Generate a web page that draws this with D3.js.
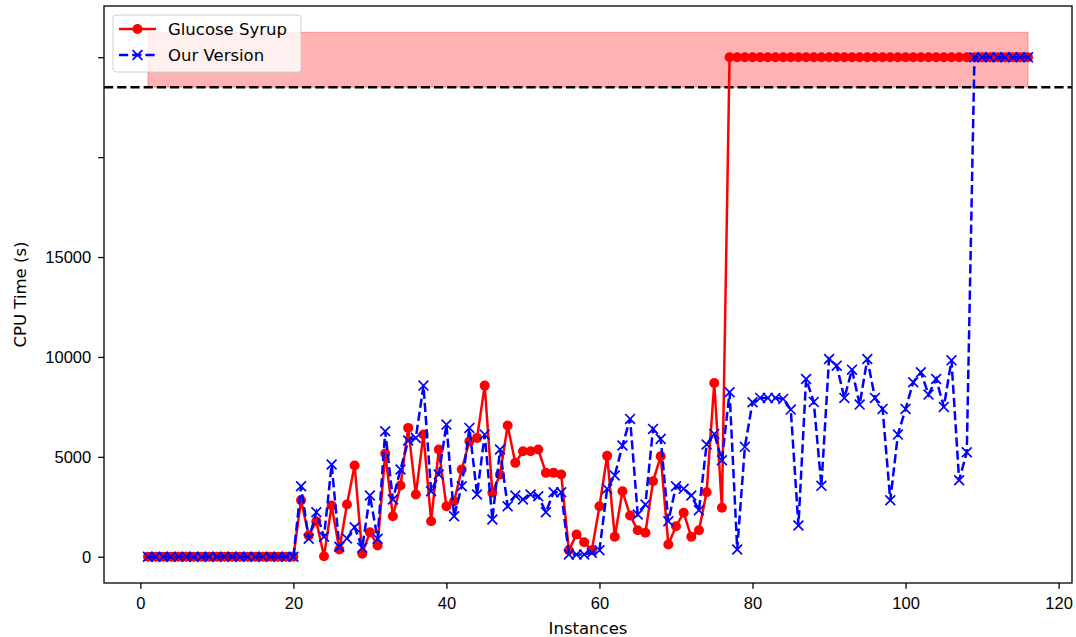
<!DOCTYPE html>
<html>
<head>
<meta charset="utf-8">
<script src="https://cdn.jsdelivr.net/npm/d3@7"></script>
<style>
  body { margin: 0; background: #fff; }
  svg { font-family: "DejaVu Sans", sans-serif; }
</style>
</head>
<body>
<div id="chart"></div>
<script>
// values
const instances = d3.range(1, 117);

const glucoseSyrup = [
  0, 0, 0, 0, 0, 0, 0, 0, 0, 0, 0, 0, 0, 0, 0, 0, 0, 0, 0, 0,
  2830, 1065, 1780, 30, 2565, 365, 2615, 4565, 150, 1230,
  565, 5165, 2030, 3565, 6450, 3115, 6115, 1780, 5365, 2530,
  2780, 4365, 5780, 5950, 8565, 3200, 4115, 6565, 4700, 5280,
  5280, 5365, 4200, 4200, 4115, 330, 1115, 730, 330, 2530,
  5050, 1000, 3280, 2065, 1330, 1200, 3780, 5030, 615, 1530,
  2200, 1000, 1330, 3230, 8700, 2450,
  25000, 25000, 25000, 25000, 25000, 25000, 25000, 25000, 25000, 25000,
  25000, 25000, 25000, 25000, 25000, 25000, 25000, 25000, 25000, 25000,
  25000, 25000, 25000, 25000, 25000, 25000, 25000, 25000, 25000, 25000,
  25000, 25000, 25000, 25000, 25000, 25000, 25000, 25000, 25000, 25000
];

const ourVersion = [
  0, 0, 0, 0, 0, 0, 0, 0, 0, 0, 0, 0, 0, 0, 0, 0, 0, 0, 0, 0,
  3530, 900, 2230, 1000, 4615, 500, 915, 1480, 450, 3065,
  900, 6280, 2865, 4365, 5815, 5950, 8565, 3280, 4115, 6615,
  2030, 3530, 6450, 3115, 6115, 1865, 5365, 2530, 3065, 2865,
  3115, 3030, 2230, 3230, 3230, 115, 115, 115, 200, 330,
  3400, 4065, 5565, 6900, 2115, 2615, 6400, 5900, 1780, 3530,
  3400, 3065, 2330, 5615, 6150, 4830, 8230, 365, 5500, 7730,
  7950, 7950, 7950, 7900, 7365, 1565, 8900, 7750, 3550, 9900,
  9565, 7950, 9365, 7615, 9900, 7950, 7400, 2830, 6115, 7400,
  8730, 9230, 8115, 8900, 7500, 9830, 3830, 5230,
  25000, 25000, 25000, 25000, 25000, 25000, 25000, 25000
];

const timeoutLine = 23500;
const timeoutBand = [23500, 26250];
const yTicks = [0, 5000, 10000, 15000, 20000, 25000];
const yTickLabels = ["0", "5000", "10000", "15000", "", ""];
const xTicks = [0, 20, 40, 60, 80, 100, 120];

const width = 1076, height = 637;
const margin = {top: 6, right: 4, bottom: 54, left: 104};
const w = width - margin.left - margin.right;
const h = height - margin.top - margin.bottom;
const fontSize = '16.5px';
const lw = 2.5;
const dash = '9.2,4';

const svg = d3.select('#chart').append('svg')
  .attr('width', width)
  .attr('height', height);

const g = svg.append('g')
  .attr('transform', `translate(${margin.left},${margin.top})`);

// matplotlib style 5% padding
const xMin = 1, xMax = 116;
const xPad = (xMax - xMin) * 0.05;
const x = d3.scaleLinear().domain([xMin - xPad, xMax + xPad]).range([0, w]);

const yMin = 0, yMax = timeoutBand[1];
const yPad = (yMax - yMin) * 0.05;
const y = d3.scaleLinear().domain([yMin - yPad, yMax + yPad]).range([h, 0]);

// red band over the timeout zone
const bandArea = d3.area()
  .x(d => x(d))
  .y0(y(timeoutBand[0]))
  .y1(y(timeoutBand[1]));
g.append('path')
  .datum(instances)
  .attr('d', bandArea)
  .attr('fill', 'red')
  .attr('fill-opacity', 0.3)
  .attr('stroke', 'red')
  .attr('stroke-opacity', 0.3)
  .attr('stroke-width', 1.2);

// threshold dashed line
g.append('line')
  .attr('x1', 0).attr('x2', w)
  .attr('y1', y(timeoutLine)).attr('y2', y(timeoutLine))
  .attr('stroke', 'black')
  .attr('stroke-width', lw)
  .attr('stroke-dasharray', dash);

const line = d3.line()
  .x((d, i) => x(instances[i]))
  .y(d => y(d));

// Glucose Syrup - red solid with circles
g.append('path')
  .datum(glucoseSyrup)
  .attr('d', line)
  .attr('fill', 'none')
  .attr('stroke', 'red')
  .attr('stroke-width', lw);

g.selectAll('.dot')
  .data(glucoseSyrup)
  .enter().append('circle')
  .attr('class', 'dot')
  .attr('cx', (d, i) => x(instances[i]))
  .attr('cy', d => y(d))
  .attr('r', 5)
  .attr('fill', 'red');

// Our Version - blue dashed with x markers
g.append('path')
  .datum(ourVersion)
  .attr('d', line)
  .attr('fill', 'none')
  .attr('stroke', 'blue')
  .attr('stroke-width', lw)
  .attr('stroke-dasharray', dash);

const cross = 4.9;
g.selectAll('.cross')
  .data(ourVersion)
  .enter().append('path')
  .attr('class', 'cross')
  .attr('transform', (d, i) => `translate(${x(instances[i])},${y(d)})`)
  .attr('d', `M${-cross},${-cross}L${cross},${cross}M${-cross},${cross}L${cross},${-cross}`)
  .attr('stroke', 'blue')
  .attr('stroke-width', 1.7)
  .attr('fill', 'none');

// axes
const xAxis = g.append('g')
  .attr('transform', `translate(0,${h})`)
  .call(d3.axisBottom(x).tickValues(xTicks).tickSize(5.8).tickPadding(8).tickSizeOuter(0));

const yAxis = g.append('g')
  .call(d3.axisLeft(y).tickValues(yTicks).tickFormat((d, i) => yTickLabels[i]).tickSize(5.8).tickPadding(7).tickSizeOuter(0));

[xAxis, yAxis].forEach(a => {
  a.select('.domain').remove();
  a.selectAll('text').style('font-size', fontSize).attr('fill', '#000');
  a.selectAll('line').attr('stroke', '#000').attr('stroke-width', 1.3);
});

// frame
g.append('rect')
  .attr('width', w).attr('height', h)
  .attr('fill', 'none')
  .attr('stroke', '#000')
  .attr('stroke-width', 1.3);

// axis labels
svg.append('text')
  .attr('x', margin.left + w / 2)
  .attr('y', 634)
  .attr('text-anchor', 'middle')
  .style('font-size', fontSize)
  .text('Instances');

svg.append('text')
  .attr('transform', `translate(26,${margin.top + h / 2}) rotate(-90)`)
  .attr('text-anchor', 'middle')
  .style('font-size', fontSize)
  .text('CPU Time (s)');

// legend
const legend = svg.append('g').attr('transform', 'translate(113,15)');
legend.append('rect')
  .attr('width', 188).attr('height', 57)
  .attr('rx', 3)
  .attr('fill', 'white').attr('fill-opacity', 0.8)
  .attr('stroke', '#d0d0d0');

const entries = [
  {label: 'Glucose Syrup', color: 'red', dash: null, marker: 'circle'},
  {label: 'Our Version', color: 'blue', dash: dash, marker: 'x'}
];
entries.forEach((e, i) => {
  const cy = 14 + i * 26;
  legend.append('line')
    .attr('x1', 6).attr('x2', 43)
    .attr('y1', cy).attr('y2', cy)
    .attr('stroke', e.color).attr('stroke-width', lw)
    .attr('stroke-dasharray', e.dash);
  if (e.marker === 'circle') {
    legend.append('circle').attr('cx', 24.5).attr('cy', cy).attr('r', 5).attr('fill', e.color);
  } else {
    legend.append('path')
      .attr('transform', `translate(24.5,${cy})`)
      .attr('d', `M${-cross},${-cross}L${cross},${cross}M${-cross},${cross}L${cross},${-cross}`)
      .attr('stroke', e.color).attr('stroke-width', 1.7);
  }
  legend.append('text')
    .attr('x', 55).attr('y', cy + 6)
    .style('font-size', fontSize)
    .text(e.label);
});
</script>
</body>
</html>
